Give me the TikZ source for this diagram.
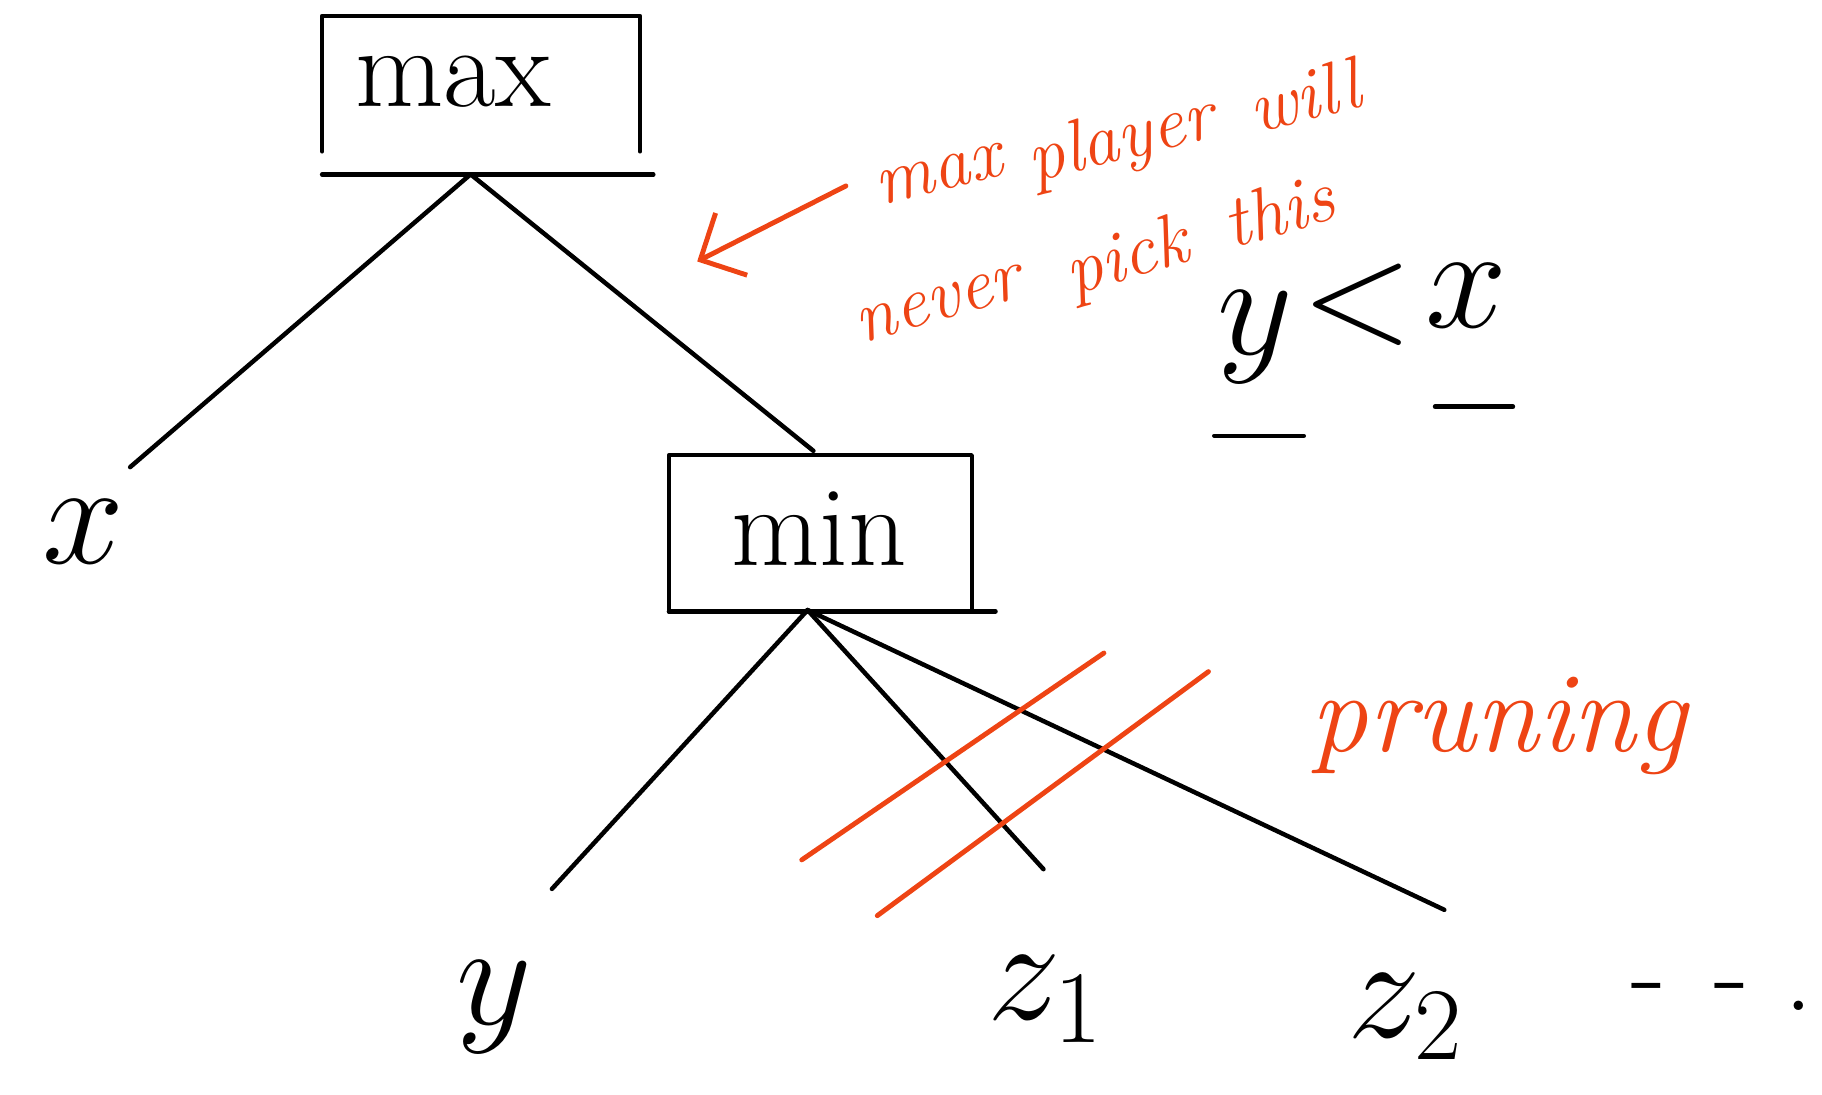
\RequirePackage{fix-cm}
\documentclass[tikz,border=0pt]{standalone}
\usepackage{fontspec}
\usepackage{xcolor}
\usetikzlibrary{arrows.meta,calc}
\definecolor{inkred}{RGB}{238,68,20}
\tikzset{
  boxlbl/.style={inner sep=0pt,font=\fontsize{28}{32}\selectfont},
  leaflbl/.style={inner sep=0pt,font=\fontsize{36}{40}\selectfont},
  frame/.style={line width=1.1pt,line cap=round,line join=round},
  edge/.style={line width=1.1pt,line cap=round},
  remark/.style={inner sep=0pt,text=inkred,font=\itshape\fontsize{18}{22}\selectfont},
  prune/.style={draw=inkred,line width=1.2pt,line cap=round},
  pointer/.style={-{Straight Barb[length=3mm,width=6mm]},draw=inkred,line width=1.2pt,line cap=round}
}

\begin{document}
\begin{tikzpicture}[x=0.01cm,y=-0.01cm]
  \useasboundingbox (0,0) rectangle (1568,942);
  %% max node (box open at the bottom, bar below)
  \node[minimum width=2.72cm,minimum height=1.15cm,inner sep=0pt] (maxbox) at (414,72) {};
  \node[boxlbl] (maxlbl) at (390,70) {max};
  \draw[frame] (maxbox.south west) |- (maxbox.north east) -- (maxbox.south east);
  \draw[frame] ($(maxbox.south west)+(0,20)$) -- ++(285,0);
  \coordinate (maxroot) at (405,150);
  %% min node
  \node[minimum width=2.59cm,minimum height=1.33cm,inner sep=0pt] (minbox) at (706,459) {};
  \node[boxlbl] (minlbl) at (705,455) {min};
  \draw[frame] (minbox.south west) |- (minbox.north east) -- (minbox.south east);
  \draw[frame] (minbox.south west) -- ++(281,0);
  \coordinate (mintop) at (700,388);
  \coordinate (minroot) at (695,525);
  %% leaves
  \node[leaflbl] (xlf) at (72,458) {$x$};
  \node[leaflbl] (ylf) at (425,867) {$y$};
  \node[leaflbl] (z1lf) at (900,860) {$z_1$};
  \node[leaflbl] (z2lf) at (1210,875) {$z_2$};
  \node[boxlbl] (more) at (1482,858) {-\hspace{0.42cm}-\hspace{0.3cm}.};
  \coordinate (xtip) at (112,402);
  \coordinate (ytip) at (475,765);
  \coordinate (z1tip) at (898,748);
  \coordinate (z2tip) at (1243,783);
  %% edges
  \draw[edge] (maxroot) -- (xtip);
  \draw[edge] (maxroot) -- (mintop);
  \draw[edge] (minroot) -- (ytip);
  \draw[edge] (minroot) -- (z1tip);
  \draw[edge] (minroot) -- (z2tip);
  %% red notes
  \coordinate (ptail) at (728,160);
  \coordinate (phead) at (600,225);
  \draw[pointer] (ptail) -- (phead);
  \node[remark,rotate=14] (n1a) at (808,150) {max};
  \node[remark,rotate=14] (n1b) at (965,122) {player};
  \node[remark,rotate=14] (n1c) at (1122,82) {will};
  \node[remark,rotate=16] (n2a) at (808,262) {never};
  \node[remark,rotate=16] (n2b) at (970,224) {pick};
  \node[remark,rotate=16] (n2c) at (1100,180) {this};
  \node[remark,font=\itshape\fontsize{28}{32}\selectfont] (prn) at (1290,625) {pruning};
  \draw[prune] (690,740) -- (950,562);
  \draw[prune] (755,788) -- (1040,578);
  %% y < x
  \node[leaflbl] (cy) at (1080,290) {$y$};
  \node[leaflbl] (clt) at (1168,262) {$<$};
  \node[leaflbl] (cx) at (1262,255) {$x$};
  \draw[edge] (1045,375) -- (1122,375);
  \draw[edge] (1235,350) -- (1302,350);
\end{tikzpicture}
\end{document}
